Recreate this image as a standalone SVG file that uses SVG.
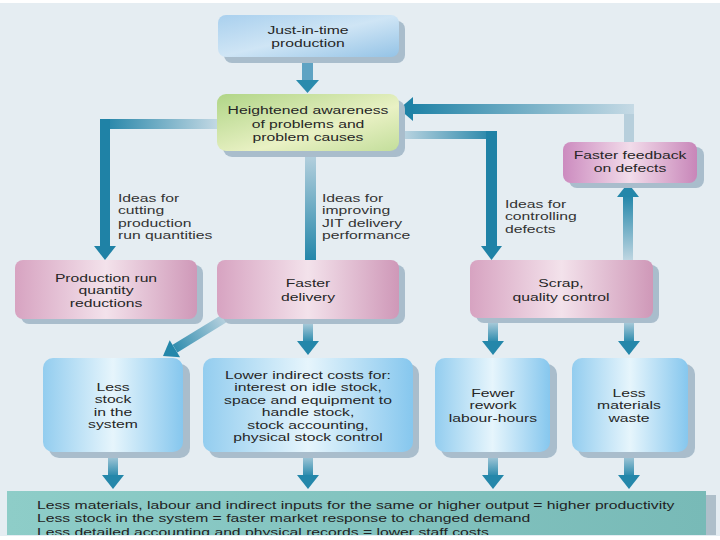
<svg xmlns="http://www.w3.org/2000/svg" width="720" height="540" viewBox="0 0 720 540">
<defs>
<linearGradient id="gBlue" x1="0" y1="0" x2="1" y2="0">
<stop offset="0" stop-color="#93cdef"/><stop offset="0.5" stop-color="#e6f5fc"/><stop offset="1" stop-color="#86c7ee"/>
</linearGradient>
<linearGradient id="gJit" x1="0" y1="0" x2="1" y2="1">
<stop offset="0" stop-color="#a9d0ee"/><stop offset="0.5" stop-color="#cfe5f5"/><stop offset="1" stop-color="#94c3e6"/>
</linearGradient>
<linearGradient id="gGreen" x1="0" y1="0" x2="1" y2="1">
<stop offset="0" stop-color="#b0d587"/><stop offset="0.6" stop-color="#e9f1c4"/><stop offset="1" stop-color="#c3de9b"/>
</linearGradient>
<linearGradient id="gPink" x1="0" y1="0" x2="1" y2="0">
<stop offset="0" stop-color="#d7a3c1"/><stop offset="0.5" stop-color="#f3e2eb"/><stop offset="1" stop-color="#cf98b8"/>
</linearGradient>
<linearGradient id="gMag" x1="0" y1="0" x2="1" y2="0">
<stop offset="0" stop-color="#cc8bbf"/><stop offset="0.5" stop-color="#f2dcea"/><stop offset="1" stop-color="#c886b9"/>
</linearGradient>
<linearGradient id="gTeal" x1="0" y1="0" x2="1" y2="0">
<stop offset="0" stop-color="#8ecdc8"/><stop offset="1" stop-color="#78bab7"/>
</linearGradient>
<linearGradient id="aDown" x1="0" y1="0" x2="0" y2="1">
<stop offset="0" stop-color="#b9d2df"/><stop offset="1" stop-color="#2487aa"/>
</linearGradient>
<linearGradient id="aUp" x1="0" y1="1" x2="0" y2="0">
<stop offset="0" stop-color="#c3d8e3"/><stop offset="1" stop-color="#2487aa"/>
</linearGradient>
<linearGradient id="aLeft" x1="1" y1="0" x2="0" y2="0">
<stop offset="0" stop-color="#c6dae5"/><stop offset="1" stop-color="#1f82a6"/>
</linearGradient>
<linearGradient id="aRight" x1="0" y1="0" x2="1" y2="0">
<stop offset="0" stop-color="#c6dae5"/><stop offset="1" stop-color="#1f82a6"/>
</linearGradient>
<linearGradient id="aDiag" gradientUnits="userSpaceOnUse" x1="225" y1="318" x2="170" y2="352">
<stop offset="0" stop-color="#b9d2df"/><stop offset="1" stop-color="#2487aa"/>
</linearGradient>
<clipPath id="barClip"><rect x="7" y="491" width="699" height="44"/></clipPath>
<style>
.sh{fill:#a9bdcc}
.t{font-family:"Liberation Sans",Arial,sans-serif;font-size:11px;fill:#262626;text-anchor:middle}
.l{font-family:"Liberation Sans",Arial,sans-serif;font-size:11px;fill:#333}
.b{font-family:"Liberation Sans",Arial,sans-serif;font-size:11px;fill:#222}
.dk{fill:#1f82a6}
.lt{fill:#b7cfdc}
</style>
</defs>
<rect x="0" y="0" width="720" height="540" fill="#ffffff"/>
<rect x="0" y="3" width="720" height="533" fill="#e5edf2"/>

<g id="connectors">
<rect x="302" y="61" width="11" height="21" fill="#5fa3c3"/>
<polygon points="296,80 319,80 307.5,93" fill="#2a8bad"/>
<rect x="100" y="119" width="120" height="10" fill="url(#aLeft)"/>
<rect x="100" y="119" width="10" height="129" class="dk"/>
<polygon points="94,246 116,246 105,260" class="dk"/>
<rect x="305" y="152" width="11" height="108" fill="url(#aDown)"/>
<rect x="396" y="131" width="101" height="8" fill="url(#aRight)"/>
<rect x="486" y="131" width="11" height="117" class="dk"/>
<polygon points="481,246 502,246 491.5,260" class="dk"/>
<rect x="624" y="104" width="10" height="40" class="lt"/>
<rect x="410" y="104" width="224" height="10" fill="url(#aLeft)"/>
<polygon points="413,97 413,121 399,109" class="dk"/>
<rect x="623" y="196" width="10" height="66" fill="url(#aUp)"/>
<polygon points="617,197 639,197 628,183" fill="#2487aa"/>
<line x1="225" y1="318" x2="175" y2="348.7" stroke="url(#aDiag)" stroke-width="9"/>
<polygon points="163,356 180.1,357.2 169.7,340.2" fill="#2487aa"/>
<rect x="303" y="321" width="10" height="22" fill="url(#aDown)"/>
<polygon points="297,341 319,341 308,355" fill="#2487aa"/>
<rect x="488" y="320" width="10" height="23" fill="url(#aDown)"/>
<polygon points="482,341 504,341 493,355" fill="#2487aa"/>
<rect x="624" y="320" width="10" height="23" fill="url(#aDown)"/>
<polygon points="618,341 640,341 629,355" fill="#2487aa"/>
<rect x="108" y="453" width="10" height="24" fill="url(#aDown)"/>
<polygon points="102,475 124,475 113,489" fill="#2487aa"/>
<rect x="303" y="453" width="10" height="24" fill="url(#aDown)"/>
<polygon points="297,475 319,475 308,489" fill="#2487aa"/>
<rect x="488" y="453" width="10" height="24" fill="url(#aDown)"/>
<polygon points="482,475 504,475 493,489" fill="#2487aa"/>
<rect x="624" y="453" width="10" height="24" fill="url(#aDown)"/>
<polygon points="618,475 640,475 629,489" fill="#2487aa"/>
</g>

<g id="jit">
<rect x="224" y="21" width="181" height="42" rx="8" class="sh"/>
<rect x="218" y="15" width="181" height="42" rx="8" fill="url(#gJit)"/>
<g transform="translate(308 0) scale(1.43 1)">
<text class="t" x="0" y="34">Just-in-time</text>
<text class="t" x="0" y="47">production</text>
</g>
</g>

<g id="awareness">
<rect x="223" y="100" width="182" height="57" rx="9" class="sh"/>
<rect x="217" y="94" width="182" height="57" rx="9" fill="url(#gGreen)"/>
<g transform="translate(308 0) scale(1.43 1)">
<text class="t" x="0" y="114">Heightened awareness</text>
<text class="t" x="0" y="128">of problems and</text>
<text class="t" x="0" y="141">problem causes</text>
</g>
</g>

<g id="labels">
<g transform="translate(118 0) scale(1.43 1)">
<text class="l" x="0" y="202">Ideas for</text>
<text class="l" x="0" y="214.5">cutting</text>
<text class="l" x="0" y="227">production</text>
<text class="l" x="0" y="239.5">run quantities</text>
</g>
<g transform="translate(322 0) scale(1.43 1)">
<text class="l" x="0" y="202">Ideas for</text>
<text class="l" x="0" y="214.5">improving</text>
<text class="l" x="0" y="227">JIT delivery</text>
<text class="l" x="0" y="239.5">performance</text>
</g>
<g transform="translate(505 0) scale(1.43 1)">
<text class="l" x="0" y="208">Ideas for</text>
<text class="l" x="0" y="220.5">controlling</text>
<text class="l" x="0" y="233">defects</text>
</g>
</g>

<g id="feedback">
<rect x="569" y="147" width="135" height="41" rx="8" class="sh"/>
<rect x="563" y="142" width="134" height="41" rx="8" fill="url(#gMag)"/>
<g transform="translate(630 0) scale(1.43 1)">
<text class="t" x="0" y="159">Faster feedback</text>
<text class="t" x="0" y="172">on defects</text>
</g>
</g>

<g id="production-run">
<rect x="21" y="265" width="182" height="59" rx="8" class="sh"/>
<rect x="15" y="260" width="182" height="59" rx="8" fill="url(#gPink)"/>
<g transform="translate(106 0) scale(1.43 1)">
<text class="t" x="0" y="282">Production run</text>
<text class="t" x="0" y="294.5">quantity</text>
<text class="t" x="0" y="307">reductions</text>
</g>
</g>

<g id="faster-delivery">
<rect x="223" y="265" width="182" height="59" rx="8" class="sh"/>
<rect x="217" y="260" width="182" height="59" rx="8" fill="url(#gPink)"/>
<g transform="translate(308 0) scale(1.43 1)">
<text class="t" x="0" y="287">Faster</text>
<text class="t" x="0" y="301">delivery</text>
</g>
</g>

<g id="scrap">
<rect x="476" y="265" width="183" height="58" rx="8" class="sh"/>
<rect x="470" y="260" width="183" height="58" rx="8" fill="url(#gPink)"/>
<g transform="translate(561 0) scale(1.43 1)">
<text class="t" x="0" y="287">Scrap,</text>
<text class="t" x="0" y="301">quality control</text>
</g>
</g>

<g id="less-stock">
<rect x="49" y="364" width="141" height="94" rx="10" class="sh"/>
<rect x="43" y="358" width="140" height="94" rx="10" fill="url(#gBlue)"/>
<g transform="translate(113 0) scale(1.43 1)">
<text class="t" x="0" y="391">Less</text>
<text class="t" x="0" y="403.5">stock</text>
<text class="t" x="0" y="416">in the</text>
<text class="t" x="0" y="428.5">system</text>
</g>
</g>

<g id="lower-indirect">
<rect x="209" y="364" width="210" height="94" rx="10" class="sh"/>
<rect x="203" y="358" width="210" height="94" rx="10" fill="url(#gBlue)"/>
<g transform="translate(308 0) scale(1.43 1)">
<text class="t" x="0" y="379">Lower indirect costs for:</text>
<text class="t" x="0" y="391.5">interest on idle stock,</text>
<text class="t" x="0" y="404">space and equipment to</text>
<text class="t" x="0" y="416.5">handle stock,</text>
<text class="t" x="0" y="429">stock accounting,</text>
<text class="t" x="0" y="441.5">physical stock control</text>
</g>
</g>

<g id="fewer-rework">
<rect x="441" y="364" width="116" height="94" rx="10" class="sh"/>
<rect x="435" y="358" width="115" height="94" rx="10" fill="url(#gBlue)"/>
<g transform="translate(493 0) scale(1.43 1)">
<text class="t" x="0" y="397">Fewer</text>
<text class="t" x="0" y="409.5">rework</text>
<text class="t" x="0" y="422">labour-hours</text>
</g>
</g>

<g id="less-materials">
<rect x="578" y="364" width="117" height="94" rx="10" class="sh"/>
<rect x="572" y="358" width="116" height="94" rx="10" fill="url(#gBlue)"/>
<g transform="translate(629 0) scale(1.43 1)">
<text class="t" x="0" y="397">Less</text>
<text class="t" x="0" y="409.5">materials</text>
<text class="t" x="0" y="422">waste</text>
</g>
</g>

<g id="outcome">
<rect x="14" y="495" width="702" height="40" fill="#aebfca"/>
<rect x="7" y="491" width="699" height="44" fill="url(#gTeal)"/>
<g clip-path="url(#barClip)">
<g transform="translate(37 0) scale(1.43 1)">
<text class="b" x="0" y="509">Less materials, labour and indirect inputs for the same or higher output = higher productivity</text>
<text class="b" x="0" y="522">Less stock in the system = faster market response to changed demand</text>
<text class="b" x="0" y="536">Less detailed accounting and physical records = lower staff costs</text>
</g>
</g>
</g>
</svg>
